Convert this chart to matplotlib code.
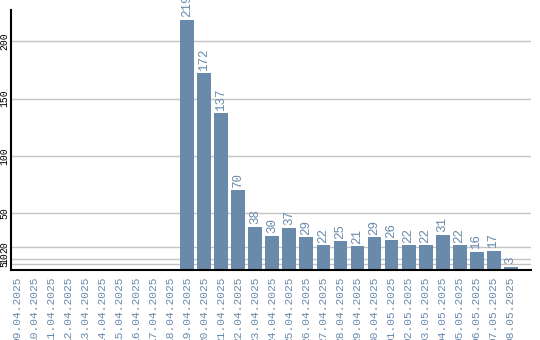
import matplotlib
matplotlib.use('Agg')
import matplotlib.pyplot as plt

dates = ['09.04.2025', '10.04.2025', '11.04.2025', '12.04.2025', '13.04.2025',
         '14.04.2025', '15.04.2025', '16.04.2025', '17.04.2025', '18.04.2025',
         '19.04.2025', '20.04.2025', '21.04.2025', '22.04.2025', '23.04.2025',
         '24.04.2025', '25.04.2025', '26.04.2025', '27.04.2025', '28.04.2025',
         '29.04.2025', '30.04.2025', '01.05.2025', '02.05.2025', '03.05.2025',
         '04.05.2025', '05.05.2025', '06.05.2025', '07.05.2025', '08.05.2025']
counts = [0, 0, 0, 0, 0, 0, 0, 0, 0, 0,
          219, 172, 137, 70, 38, 30, 37, 29, 22, 25,
          21, 29, 26, 22, 22, 31, 22, 16, 17, 3]
yticks = [5, 10, 20, 50, 100, 150, 200]

bar_color = '#6a8aab'
text_color = '#6a8aab'
mono = 'Liberation Mono'

fig = plt.figure(figsize=(5.4, 3.4), dpi=100)
ax = fig.add_axes([11 / 540, 70 / 340, 520 / 540, 260 / 340])

x = list(range(len(dates)))
bars = ax.bar(x, counts, width=0.82, color=bar_color, zorder=2)

# value labels above non-zero bars
for xi, v in zip(x, counts):
    if v > 0:
        ax.text(xi, v + 2, str(v), rotation=90, ha='center', va='bottom',
                color=text_color, fontsize=9, family=mono)

ax.set_xlim(-0.37, 30.2)
ax.set_ylim(0, 227.5)
ax.set_xticks(x)
ax.set_xticklabels(dates, rotation=90, color=text_color, fontsize=8.1, family=mono)
ax.set_yticks(yticks)
ax.set_yticklabels([str(t) for t in yticks], rotation=90, va='center',
                   fontsize=7, family=mono)
ax.tick_params(axis='both', length=0, pad=5)
ax.tick_params(axis='y', pad=1)

ax.grid(axis='y', color='#c4c4c4', linewidth=1, zorder=1)
ax.spines['top'].set_visible(False)
ax.spines['right'].set_visible(False)
for s in ('left', 'bottom'):
    ax.spines[s].set_color('black')
    ax.spines[s].set_linewidth(1.5)
    ax.spines[s].set_zorder(3)

fig.savefig('out.png', dpi=100)
